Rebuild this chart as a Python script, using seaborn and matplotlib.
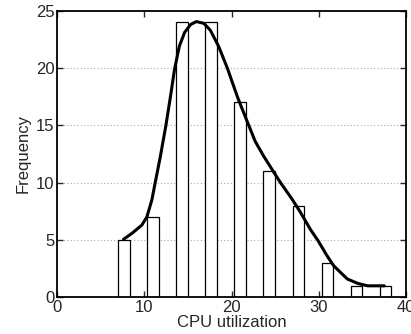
import numpy as np
import pandas as pd
import seaborn as sns
import matplotlib.pyplot as plt

# histogram bins (centres) and counts
bin_centers = [7.65, 10.98, 14.31, 17.65, 20.98, 24.31, 27.64, 30.98, 34.31, 37.65]
counts = [5, 7, 24, 24, 17, 11, 8, 3, 1, 1]

# smooth fitted curve
curve_x = [7.6, 8.6, 9.7, 10.27, 10.85, 11.23, 11.8, 12.46, 13.0, 13.45, 14.0,
           14.6, 15.3, 15.95, 16.8, 17.55, 18.5, 19.5, 20.7, 21.96, 22.7, 23.68,
           24.76, 25.6, 26.94, 27.9, 29.05, 29.9, 30.96, 31.7, 33.26, 34.5,
           35.6, 37.5]
curve_y = [5.06, 5.6, 6.3, 7.0, 8.5, 10.0, 12.2, 15.0, 17.6, 19.9, 21.9,
           23.1, 23.8, 24.05, 23.9, 23.3, 21.9, 20.0, 17.4, 15.0, 13.6, 12.3,
           11.0, 10.0, 8.55, 7.4, 5.9, 4.95, 3.6, 2.75, 1.6, 1.2,
           1.0, 1.0]

xticks = [0, 10, 20, 30, 40]
yticks = [0, 5, 10, 15, 20, 25]

sns.set_style("ticks")
plt.rcParams['font.family'] = ['Liberation Sans', 'DejaVu Sans']

fig = plt.figure(figsize=(4.11, 3.34), dpi=100)
ax = fig.add_axes([0.1394, 0.1099, 0.8485, 0.8581])

half = (bin_centers[1] - bin_centers[0]) / 2
sns.histplot(x=bin_centers, weights=counts, bins=len(bin_centers),
             binrange=(bin_centers[0] - half, bin_centers[-1] + half),
             shrink=0.4, color='white', edgecolor='black', linewidth=0.9,
             alpha=1, ax=ax)

sns.lineplot(x=curve_x, y=curve_y, color='black', linewidth=2.2, ax=ax)
ax.lines[-1].set_solid_joinstyle('round')

ax.set_xlim(0, 40)
ax.set_ylim(0, 25)
ax.set_xticks(xticks)
ax.set_yticks(yticks)
ax.set_axisbelow(True)
ax.yaxis.grid(True, linestyle=(0, (1, 2)), color='#aaaaaa', linewidth=0.8)
ax.tick_params(direction='in', top=True, right=True, length=4, width=1,
               labelsize=12, pad=2)
for s in ax.spines.values():
    s.set_linewidth(1.3)
    s.set_color('black')

ax.set_xlabel('CPU utilization', fontsize=12, labelpad=0)
ax.set_ylabel('Frequency', fontsize=12, labelpad=4)

fig.savefig('out.png', dpi=100)
